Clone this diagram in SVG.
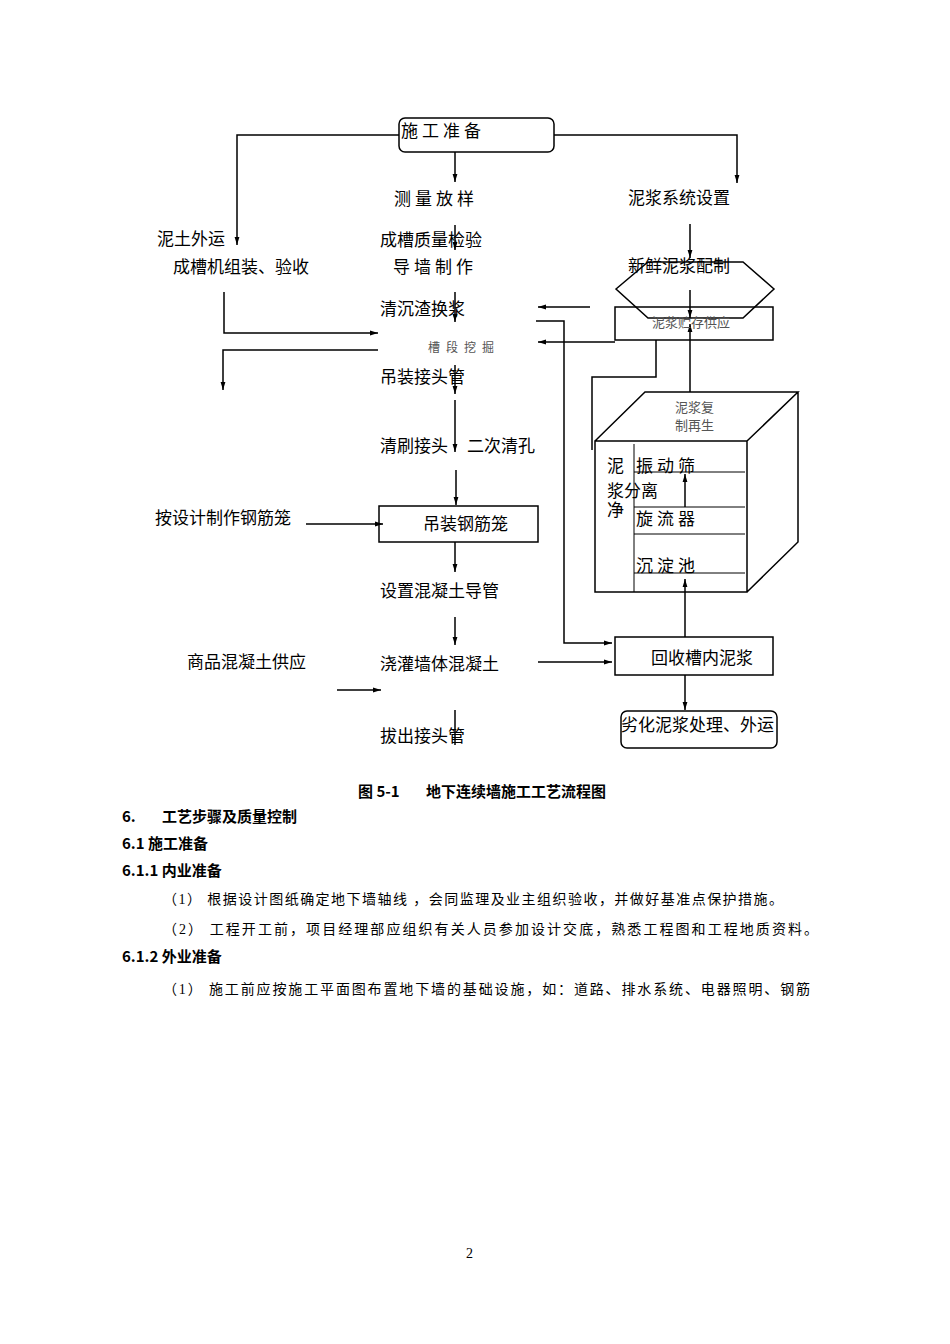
<svg xmlns="http://www.w3.org/2000/svg" width="950" height="1344" viewBox="0 0 950 1344">
<defs>
<marker id="a" viewBox="0 0 10 10" refX="10" refY="5" markerWidth="8" markerHeight="8" orient="auto-start-reverse" markerUnits="userSpaceOnUse"><path d="M0,2 L10,5 L0,8 z" fill="#000"/></marker>
<style>
.l{fill:none;stroke:#000;stroke-width:1.5}
.t{font-family:"Noto Sans CJK SC",sans-serif;font-size:17px;fill:#000}
.s{font-family:"Noto Sans CJK SC",sans-serif;font-size:12px;fill:#555}
.b{font-family:"Noto Sans CJK SC",sans-serif;font-size:15px;font-weight:bold;fill:#000}
.p{font-family:"Liberation Serif","Noto Sans CJK SC",serif;font-size:14px;fill:#000}
.sp{letter-spacing:4px}
</style>
</defs>
<rect width="950" height="1344" fill="#fff"/>
<g id="connectors" class="l">
<path d="M399,135 H237 V245" marker-end="url(#a)"/>
<path d="M554,135 H737 V183" marker-end="url(#a)"/>
<path d="M455,152 V182" marker-end="url(#a)"/>
<path d="M455,225 V250" marker-end="url(#a)"/>
<path d="M455,292 V322" marker-end="url(#a)"/>
<path d="M455,365 V394" marker-end="url(#a)"/>
<path d="M455,400 V452" marker-end="url(#a)"/>
<path d="M456,470 V505" marker-end="url(#a)"/>
<path d="M455,542 V572" marker-end="url(#a)"/>
<path d="M455,617 V645" marker-end="url(#a)"/>
<path d="M455,710 V745"/>
<path d="M224,292 V333 H378" marker-end="url(#a)"/>
<path d="M378,350 H223 V390" marker-end="url(#a)"/>
<path d="M306,524 H383" marker-end="url(#a)"/>
<path d="M337,690 H381" marker-end="url(#a)"/>
<path d="M690,224 V258" marker-end="url(#a)"/>
<path d="M690,290 V318" marker-end="url(#a)"/>
<path d="M690,392 V324" marker-end="url(#a)"/>
<path d="M590,307 H538" marker-end="url(#a)"/>
<path d="M615,342 H538" marker-end="url(#a)"/>
<path d="M536,321 H564 V643 H612" marker-end="url(#a)"/>
<path d="M538,662 H612" marker-end="url(#a)"/>
<path d="M656,340 V377 H592 V450"/>
<path d="M685,507 V474" marker-end="url(#a)"/>
<path d="M685,637 V579" marker-end="url(#a)"/>
<path d="M685,675 V710" marker-end="url(#a)"/>
</g>
<g id="n1"><rect x="399" y="118" width="155" height="34" rx="6" class="l"/><text x="401" y="137" class="t sp">施工准备</text></g>
<g id="n2"><text x="394" y="205" class="t sp">测量放样</text></g>
<g id="n3"><text x="380" y="246" class="t">成槽质量检验</text></g>
<g id="n4"><text x="393" y="273" class="t sp">导墙制作</text></g>
<g id="n5"><text x="380" y="315" class="t">清沉渣换浆</text></g>
<g id="n6"><text x="428" y="352" class="s" style="letter-spacing:6px">槽段挖掘</text></g>
<g id="n7"><text x="380" y="383" class="t">吊装接头管</text></g>
<g id="n8"><text x="380" y="452" class="t">清刷接头</text><text x="467" y="452" class="t">二次清孔</text></g>
<g id="n9"><rect x="379" y="506" width="159" height="36" class="l"/><text x="423" y="530" class="t">吊装钢筋笼</text></g>
<g id="n10"><text x="380" y="597" class="t">设置混凝土导管</text></g>
<g id="n11"><text x="380" y="670" class="t">浇灌墙体混凝土</text></g>
<g id="n12"><text x="380" y="742" class="t">拔出接头管</text></g>
<g id="n13"><text x="157" y="245" class="t">泥土外运</text></g>
<g id="n14"><text x="173" y="273" class="t">成槽机组装、验收</text></g>
<g id="n15"><text x="155" y="524" class="t">按设计制作钢筋笼</text></g>
<g id="n16"><text x="187" y="668" class="t">商品混凝土供应</text></g>
<g id="n17"><text x="628" y="204" class="t">泥浆系统设置</text></g>
<g id="n18"><polygon points="616,289 648,262 743,262 774,289 743,318 648,318" class="l"/><text x="628" y="272" class="t">新鲜泥浆配制</text></g>
<g id="n19"><rect x="615" y="307" width="158" height="33" class="l" fill="none"/><text x="652" y="327" class="s" style="font-size:13px">泥浆贮存供应</text></g>
<g id="n20">
<path class="l" d="M595,441 H747 V592 H595 Z M595,441 L645,392 H798 L747,441 M798,392 V542 L747,592"/>
<path d="M634,444 V592 M634,472 H745 M634,507 H745 M634,534 H745 M634,573 H745" fill="none" stroke="#000" stroke-width="1"/>
<text x="675" y="412" class="s" style="font-size:13px">泥浆复</text>
<text x="675" y="430" class="s" style="font-size:13px">制再生</text>
<text x="607" y="472" class="t">泥</text><text x="636" y="472" class="t sp">振动筛</text>
<text x="607" y="497" class="t">浆分离</text>
<text x="607" y="516" class="t">净</text>
<text x="636" y="525" class="t sp">旋流器</text>
<text x="636" y="572" class="t sp">沉淀池</text>
</g>
<g id="n21"><rect x="615" y="637" width="158" height="38" class="l"/><text x="651" y="664" class="t">回收槽内泥浆</text></g>
<g id="n22"><rect x="621" y="711" width="156" height="37" rx="6" class="l"/><text x="621" y="731" class="t">劣化泥浆处理、外运</text></g>
<text x="358" y="797" class="b">图 5-1</text><text x="426" y="797" class="b">地下连续墙施工工艺流程图</text>
<text x="122" y="822" class="b">6.</text><text x="162" y="822" class="b">工艺步骤及质量控制</text>
<text x="122" y="849" class="b">6.1 施工准备</text>
<text x="122" y="876" class="b">6.1.1 内业准备</text>
<text x="163" y="904" class="p" textLength="620" lengthAdjust="spacing">（1） 根据设计图纸确定地下墙轴线 ，会同监理及业主组织验收，并做好基准点保护措施。</text>
<text x="163" y="934" class="p" textLength="655" lengthAdjust="spacing">（2） 工程开工前，项目经理部应组织有关人员参加设计交底，熟悉工程图和工程地质资料。</text>
<text x="122" y="962" class="b">6.1.2 外业准备</text>
<text x="163" y="994" class="p" textLength="647" lengthAdjust="spacing">（1） 施工前应按施工平面图布置地下墙的基础设施，如：道路、排水系统、电器照明、钢筋</text>
<text x="466" y="1258" class="p">2</text>
</svg>
